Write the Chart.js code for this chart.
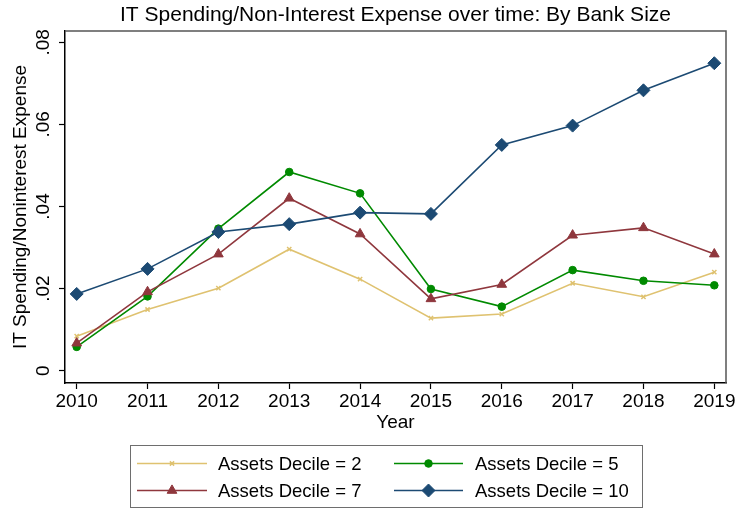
<!DOCTYPE html>
<html>
<head>
<meta charset="utf-8">
<script src="https://cdn.jsdelivr.net/npm/chart.js@4/dist/chart.umd.min.js"></script>
<style>
  html, body { margin: 0; padding: 0; background: #fff; }
  #wrap { width: 737px; height: 508px; }
</style>
</head>
<body>
<div id="wrap"><canvas id="itChart" width="737" height="508"></canvas></div>
<script>
// data
const years = [2010, 2011, 2012, 2013, 2014, 2015, 2016, 2017, 2018, 2019];
const decile2 = [0.0084, 0.0149, 0.0201, 0.0296, 0.0223, 0.0128, 0.0138, 0.0213, 0.0180, 0.0240];
const decile5 = [0.0058, 0.0181, 0.0346, 0.0484, 0.0432, 0.0199, 0.0156, 0.0245, 0.0219, 0.0208];
const decile7 = [0.0067, 0.0192, 0.0284, 0.0420, 0.0333, 0.0175, 0.0210, 0.0330, 0.0348, 0.0284];
const decile10 = [0.0187, 0.0248, 0.0338, 0.0357, 0.0385, 0.0382, 0.0550, 0.0597, 0.0683, 0.0749];
const yTicks = [0, 0.02, 0.04, 0.06, 0.08];
const yTickLabels = ['0', '.02', '.04', '.06', '.08'];

const FONT = '"Liberation Sans", Arial, Helvetica, sans-serif';

const toPoints = vals => vals.map((v, i) => ({ x: years[i], y: v }));

const series = [
    { label: 'Assets Decile = 2', data: decile2, color: '#dfc270', style: 'crossRot', radius: 3, bw: 1.5, order: 3 },
    { label: 'Assets Decile = 5', data: decile5, color: '#008a00', style: 'circle', radius: 3.8, bw: 1, order: 2 },
    { label: 'Assets Decile = 7', data: decile7, color: '#8f373d', style: 'triangle', radius: 5.6, bw: 1, order: 1 },
    { label: 'Assets Decile = 10', data: decile10, color: '#1c4a73', style: 'rectRot', radius: 6.5, bw: 1, order: 0 }
];

// title, plot frame and legend drawn on the canvas
const extras = {
    id: 'extras',
    beforeDatasetsDraw(chart) {
        const { ctx, chartArea: a } = chart;
        ctx.save();
        ctx.strokeStyle = '#555';
        ctx.lineWidth = 1.5;
        ctx.beginPath();
        ctx.moveTo(a.left, a.top);
        ctx.lineTo(a.right, a.top);
        ctx.lineTo(a.right, a.bottom);
        ctx.stroke();
        ctx.restore();
    },
    afterDraw(chart) {
        const { ctx, chartArea: a } = chart;
        ctx.save();
        ctx.fillStyle = '#000';
        ctx.font = '21px ' + FONT;
        ctx.textAlign = 'center';
        ctx.textBaseline = 'middle';
        ctx.fillText('IT Spending/Non-Interest Expense over time: By Bank Size', (a.left + a.right) / 2, 15);

        // legend box
        ctx.strokeStyle = '#6e6e6e';
        ctx.lineWidth = 1;
        ctx.strokeRect(130.5, 445.5, 512, 62);

        const cols = [{ x0: 137, x1: 207, tx: 218 }, { x0: 394, x1: 463, tx: 475 }];
        const rows = [463.5, 490.5];
        ctx.font = '18.5px ' + FONT;
        ctx.textAlign = 'left';
        series.forEach((s, i) => {
            const c = cols[i % 2];
            const y = rows[Math.floor(i / 2)];
            ctx.strokeStyle = s.color;
            ctx.fillStyle = s.color;
            ctx.lineWidth = 1.6;
            ctx.beginPath();
            ctx.moveTo(c.x0, y);
            ctx.lineTo(c.x1, y);
            ctx.stroke();
            ctx.lineWidth = s.bw;
            Chart.helpers.drawPoint(ctx, { pointStyle: s.style, radius: s.radius, borderWidth: s.bw, rotation: 0 }, (c.x0 + c.x1) / 2, y);
            ctx.fillStyle = '#000';
            ctx.fillText(s.label, c.tx, y + 1);
        });
        ctx.restore();
    }
};

const ctx = document.getElementById('itChart').getContext('2d');
new Chart(ctx, {
    type: 'line',
    data: {
        datasets: series.map(s => ({
            label: s.label,
            data: toPoints(s.data),
            borderColor: s.color,
            backgroundColor: s.color,
            pointBackgroundColor: s.color,
            pointBorderColor: s.color,
            pointStyle: s.style,
            pointRadius: s.radius,
            pointBorderWidth: s.bw,
            borderWidth: 1.6,
            tension: 0,
            fill: false,
            order: s.order
        }))
    },
    options: {
        responsive: false,
        animation: false,
        events: [],
        layout: { padding: { left: 0, top: 31, right: 11, bottom: 73 } },
        plugins: {
            legend: { display: false },
            title: { display: false },
            tooltip: { enabled: false }
        },
        scales: {
            x: {
                type: 'linear',
                min: 2009.835,
                max: 2019.165,
                afterFit: s => { s.height = 52; },
                afterBuildTicks: s => { s.ticks = years.map(v => ({ value: v })); },
                grid: { display: true, drawOnChartArea: false, drawTicks: true, tickLength: 6, tickColor: '#000', tickWidth: 1.2 },
                border: { display: true, color: '#000', width: 1.5 },
                ticks: {
                    color: '#000',
                    font: { family: FONT, size: 19 },
                    padding: 1,
                    maxRotation: 0,
                    autoSkip: false,
                    callback: v => String(v)
                },
                title: {
                    display: true,
                    text: 'Year',
                    color: '#000',
                    font: { family: FONT, size: 19 },
                    padding: { top: 0, bottom: 1 }
                }
            },
            y: {
                type: 'linear',
                min: -0.0030,
                max: 0.08275,
                afterFit: s => { s.width = 65; },
                afterBuildTicks: s => { s.ticks = yTicks.map(v => ({ value: v })); },
                grid: { display: true, drawOnChartArea: false, drawTicks: true, tickLength: 6, tickColor: '#000', tickWidth: 1.2 },
                border: { display: true, color: '#000', width: 1.5 },
                ticks: {
                    color: '#000',
                    font: { family: FONT, size: 19 },
                    padding: 2.5,
                    minRotation: 90,
                    maxRotation: 90,
                    crossAlign: 'center',
                    callback: v => {
                        const i = yTicks.indexOf(v);
                        return i >= 0 ? yTickLabels[i] : '';
                    }
                },
                title: {
                    display: true,
                    text: 'IT Spending/Noninterest Expense',
                    color: '#000',
                    font: { family: FONT, size: 19 },
                    padding: { top: 9, bottom: 0 }
                }
            }
        }
    },
    plugins: [extras]
});
</script>
</body>
</html>
